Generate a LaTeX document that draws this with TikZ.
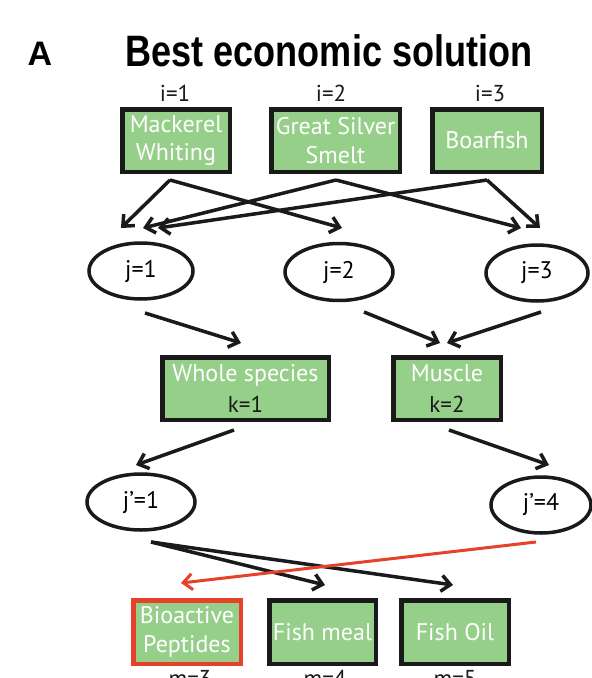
\documentclass[tikz,border=0pt]{standalone}
\usepackage{fontspec}
\usepackage{graphicx}
\usetikzlibrary{arrows.meta,calc,shapes.geometric}
\newfontfamily\headfont{Liberation Sans}
\newfontfamily\labfont{PT Sans}
\definecolor{boxgreen}{HTML}{96CF8A}
\definecolor{linkred}{HTML}{E5412B}
\definecolor{ink}{HTML}{1A1A1A}

\begin{document}
\begin{tikzpicture}[x=1pt,y=-1pt,
  box/.style={draw=ink, line width=4.5pt, fill=boxgreen, inner sep=0pt,
    minimum height=62.5pt, text=white, align=center,
    font=\labfont\fontsize{24}{28.5}\selectfont},
  redbox/.style={box, draw=linkred},
  oval/.style={draw=ink, line width=3.5pt, ellipse, inner sep=0pt,
    font=\labfont\fontsize{24}{28}\selectfont},
  idx/.style={anchor=base, font=\labfont\fontsize{23}{26}\selectfont, text=ink},
  arr/.style={draw=ink, line width=3.5pt,
    -{Straight Barb[length=9pt,width=16pt]}},
  redarr/.style={arr, draw=linkred, line width=3pt},
]
% page
\fill[white] (0,0) rectangle (592,678);
\useasboundingbox (0,0) rectangle (592,678);

% heading
\node[anchor=base, font=\headfont\bfseries\fontsize{34}{36}\selectfont] (panel) at (40,65) {A};
\node[anchor=base, font=\headfont\bfseries\fontsize{44}{48}\selectfont] (title) at (329,66)
  {\scalebox{0.82}[1]{Best economic solution}};

% species
\node[box, minimum width=107.5pt] (mack) at (176,140.5) {Mackerel\\Whiting};
\node[box, minimum width=128.5pt] (gs)   at (335.5,140.5) {Great Silver\\Smelt};
\node[box, minimum width=109.5pt] (boar) at (487,140.5) {Boarfish};
\node[idx] (i1) at (175,101) {i=1};
\node[idx] (i2) at (331,101) {i=2};
\node[idx] (i3) at (490,101) {i=3};

% first processing routes
\node[oval, minimum width=104pt, minimum height=56pt] (j1) at (141,271) {j=1};
\node[oval, minimum width=108pt, minimum height=57pt] (j2) at (339,272) {j=2};
\node[oval, minimum width=102pt, minimum height=56pt] (j3) at (537,273) {j=3};

% raw materials
\node[box, minimum width=166.5pt, font=\labfont\fontsize{24}{31}\selectfont] (whole) at (245.5,388.5)
  {Whole species\\\textcolor{ink}{\fontsize{23}{31}\selectfont k=1}};
\node[box, minimum width=107.5pt, font=\labfont\fontsize{24}{31}\selectfont] (muscle) at (447,388.5)
  {Muscle\\\textcolor{ink}{\fontsize{23}{31}\selectfont k=2}};

% second processing routes
\node[oval, minimum width=108pt, minimum height=56pt] (jp1) at (141,502) {j’=1};
\node[oval, minimum width=100pt, minimum height=56pt] (jp4) at (541,505) {j’=4};

% products
\node[redbox, minimum width=107.5pt, minimum height=63.5pt] (bio) at (187,632) {Bioactive\\Peptides};
\node[box, minimum width=106.5pt, minimum height=63.5pt] (meal) at (322.5,632) {Fish meal};
\node[box, minimum width=107.5pt, minimum height=63.5pt] (oil)  at (455,632) {Fish Oil};
\node[idx] (m3) at (190,686) {m=3};
\node[idx] (m4) at (325,686) {m=4};
\node[idx] (m5) at (455,686) {m=5};

% species -> routes
\draw[arr] ($(mack)+(-6,39.5)$) -- ($(j1)+(-20,-43)$);
\draw[arr] ($(mack)+(-6,39.5)$) -- ($(j2)+(3,-44)$);
\draw[arr] ($(gs)+(0.5,39.5)$) -- ($(j1)+(2,-43)$);
\draw[arr] ($(boar)+(0,39.5)$) -- ($(j1)+(17,-43)$);
\draw[arr] ($(gs)+(0.5,39.5)$) -- ($(j3)+(-16,-45)$);
\draw[arr] ($(boar)+(0,39.5)$) -- ($(j3)+(3,-45)$);

% routes -> raw materials
\draw[arr] ($(j1)+(4,42)$) -- ($(whole)+(-4.5,-45.5)$);
\draw[arr] ($(j2)+(25,40)$) -- ($(muscle)+(-7,-45.5)$);
\draw[arr] ($(j3)+(4,39)$) -- ($(muscle)+(0,-45.5)$);

% raw materials -> second routes
\draw[arr] ($(whole)+(-11.5,41.5)$) -- ($(jp1)+(-5,-37)$);
\draw[arr] ($(muscle)+(2,41.5)$) -- ($(jp4)+(8,-40)$);

% second routes -> products
\draw[arr] ($(jp1)+(10,40)$) -- ($(meal)+(2.5,-47)$);
\draw[arr] ($(jp1)+(10,40)$) -- ($(oil)+(-2,-47)$);
\draw[redarr] ($(jp4)+(-5,37)$) -- ($(bio)+(-6,-49)$);
\end{tikzpicture}
\end{document}
